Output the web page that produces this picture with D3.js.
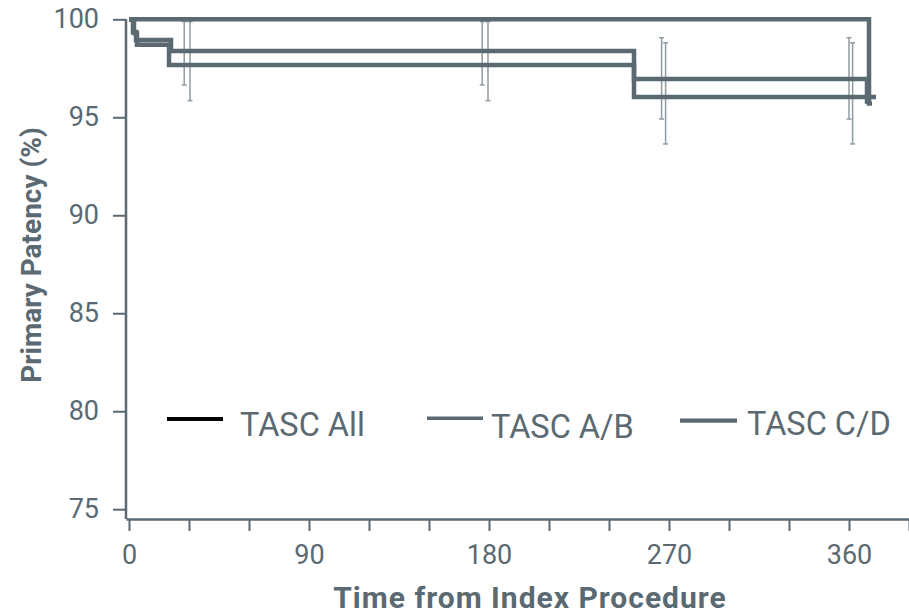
<!DOCTYPE html>
<html>
<head>
<meta charset="utf-8">
<script src="https://cdn.jsdelivr.net/npm/d3@7"></script>
<style>
  html, body { margin: 0; padding: 0; background: #fff; }
  svg { display: block; font-family: Roboto, "Noto Sans", sans-serif; }
</style>
</head>
<body>
<svg id="chart" width="909" height="614"></svg>
<script>
// ---- data ----
const seriesNames = ["TASC All", "TASC A/B", "TASC C/D"];
const allDays    = [0, 370, 371.5];
const allValues  = [100, 95.7, 95.7];
const abDays     = [0, 2, 3.5, 21, 252.5, 369, 371];
const abValues   = [100, 99.35, 98.95, 98.38, 96.95, 95.8, 95.8];
const cdDays     = [0, 2.5, 4, 20, 252.5, 373.5];
const cdValues   = [100, 99.3, 98.7, 97.67, 96.04, 96.04];

const ciDays  = [27.6, 30.5, 176.6, 179.5, 266.3, 268.3, 360, 361.8];
const ciUpper = [99.88, 99.88, 99.88, 99.88, 99.06, 98.8, 99.06, 98.8];
const ciLower = [96.65, 95.85, 96.65, 95.85, 94.91, 93.64, 94.91, 93.64];

const xTicks = [0, 30, 60, 90, 120, 150, 180, 210, 240, 270, 300, 330, 360, 390];
const xTickLabels = [0, 90, 180, 270, 360];
const yTicks = [75, 80, 85, 90, 95, 100];

// ---- drawing ----
const ink = "#5a6972";
const svg = d3.select("#chart");
const x = d3.scaleLinear().domain([-1.5, 390]).range([126, 909]);
const y = d3.scaleLinear().domain([74.5, 100]).range([519, 19.3]);

// error bars
const ci = ciDays.map((d, i) => ({d, hi: ciUpper[i], lo: ciLower[i]}));
const gci = svg.append("g").attr("stroke", "#8e9ba2").attr("stroke-width", 1.5).attr("fill", "none");
ci.forEach(c => {
  gci.append("line").attr("x1", x(c.d)).attr("x2", x(c.d)).attr("y1", y(c.hi)).attr("y2", y(c.lo));
  gci.append("line").attr("x1", x(c.d) - 2.5).attr("x2", x(c.d) + 2.5).attr("y1", y(c.hi)).attr("y2", y(c.hi));
  gci.append("line").attr("x1", x(c.d) - 2.5).attr("x2", x(c.d) + 2.5).attr("y1", y(c.lo)).attr("y2", y(c.lo));
});

// step lines
const series = [
  {name: seriesNames[0], pts: allDays.map((d, i) => [d, allValues[i]])},
  {name: seriesNames[1], pts: abDays.map((d, i) => [d, abValues[i]])},
  {name: seriesNames[2], pts: cdDays.map((d, i) => [d, cdValues[i]])}
];
const line = d3.line().x(p => x(p[0])).y(p => y(p[1])).curve(d3.curveStepAfter);
svg.append("g").selectAll("path").data(series).join("path")
  .attr("d", s => line(s.pts))
  .attr("fill", "none")
  .attr("stroke", ink)
  .attr("stroke-width", 4.5)
  .attr("stroke-linejoin", "miter");

// axes
const yAxis = d3.axisLeft(y).tickValues(yTicks).tickSize(13).tickSizeOuter(0).tickPadding(14);
const gy = svg.append("g").attr("transform", "translate(126,0)").call(yAxis);
const xAxis = d3.axisBottom(x).tickValues(xTicks).tickSize(12).tickSizeOuter(0).tickPadding(14)
  .tickFormat(d => xTickLabels.includes(d) ? d : "");
const gx = svg.append("g").attr("transform", "translate(0,519)").call(xAxis);

[gx, gy].forEach(g => {
  g.select(".domain").attr("stroke", ink).attr("stroke-width", 2.5);
  g.selectAll(".tick line").attr("stroke", ink).attr("stroke-width", 2);
  g.selectAll(".tick text").attr("fill", ink).attr("font-size", 27)
    .attr("font-family", "Roboto, sans-serif");
});
gy.select(".domain").attr("d", `M0,${y(100)}V519`);

// axis titles
svg.append("text")
  .attr("x", 530).attr("y", 608)
  .attr("text-anchor", "middle")
  .attr("font-size", 30).attr("font-weight", 700)
  .attr("letter-spacing", 1)
  .attr("fill", ink)
  .text("Time from Index Procedure");
svg.append("text")
  .attr("transform", "translate(41,255) rotate(-90)")
  .attr("text-anchor", "middle")
  .attr("font-size", 28).attr("font-weight", 700)
  .attr("fill", ink)
  .text("Primary Patency (%)");

// legend
const legendItems = [
  {name: seriesNames[0], x1: 167, x2: 223, ly: 419, sw: 4, color: "#000", tx: 240, ty: 436},
  {name: seriesNames[1], x1: 427, x2: 483, ly: 418.3, sw: 3.5, color: ink, tx: 491, ty: 438},
  {name: seriesNames[2], x1: 680, x2: 737, ly: 420.7, sw: 4.3, color: ink, tx: 747, ty: 435}
];
const gl = svg.append("g");
legendItems.forEach(it => {
  gl.append("line").attr("x1", it.x1).attr("x2", it.x2).attr("y1", it.ly).attr("y2", it.ly)
    .attr("stroke", it.color).attr("stroke-width", it.sw);
  gl.append("text").attr("x", it.tx).attr("y", it.ty)
    .attr("font-size", 32.5).attr("fill", ink).text(it.name);
});
</script>
</body>
</html>
